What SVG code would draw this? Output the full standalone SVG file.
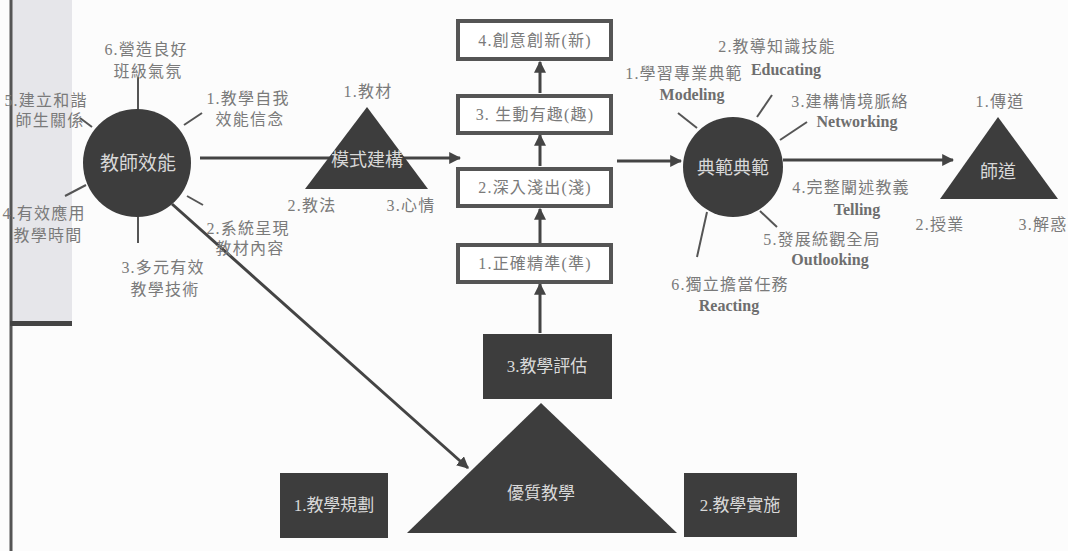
<svg xmlns="http://www.w3.org/2000/svg" width="1068" height="551" viewBox="0 0 1068 551">
<defs>
<style>
.lbl{font-family:"Liberation Serif","Noto Sans CJK TC",serif;font-size:16px;letter-spacing:1.2px;fill:#7a7a7a;text-anchor:middle}
.en{font-family:"Liberation Serif","Noto Sans CJK TC",serif;font-size:16px;fill:#6e6e6e;font-weight:bold;text-anchor:middle}
.wt{font-family:"Liberation Serif","Noto Sans CJK TC",serif;fill:#d8d8d8;text-anchor:middle}
.bx{font-family:"Liberation Serif","Noto Sans CJK TC",serif;font-size:16px;letter-spacing:1.2px;fill:#7a7a7a;text-anchor:middle}
.dark{fill:#3d3d3d}
.box{fill:#fff;stroke:#555;stroke-width:4}
.ln{stroke:#444;stroke-width:3;fill:none}
.sp{stroke:#555;stroke-width:2;fill:none}
</style>
<marker id="ah" viewBox="0 0 10 10" refX="9" refY="5" markerWidth="4" markerHeight="4" orient="auto" markerUnits="strokeWidth">
<path d="M0,0 L10,5 L0,10 z" fill="#444"/>
</marker>
</defs>
<rect width="1068" height="551" fill="#fcfcfc"/>
<g id="side-panel">
<rect x="11" y="0" width="61" height="323" fill="#e6e6ea"/>
<line x1="11" y1="0" x2="11" y2="551" stroke="#555" stroke-width="3"/>
<rect x="10" y="321" width="62" height="5" fill="#444"/>
</g>
<g id="connectors">
<line class="ln" x1="200" y1="158" x2="460" y2="158" marker-end="url(#ah)"/>
<line class="ln" x1="172" y1="204" x2="468" y2="468" marker-end="url(#ah)"/>
<line class="ln" x1="617" y1="161" x2="681" y2="161" marker-end="url(#ah)"/>
<line class="ln" x1="783" y1="160" x2="953" y2="160" marker-end="url(#ah)"/>
<line class="ln" x1="540" y1="333" x2="540" y2="284" marker-end="url(#ah)"/>
<line class="ln" x1="540" y1="243" x2="540" y2="209" marker-end="url(#ah)"/>
<line class="ln" x1="540" y1="166" x2="540" y2="135" marker-end="url(#ah)"/>
<line class="ln" x1="540" y1="93" x2="540" y2="62" marker-end="url(#ah)"/>
</g>
<g id="teacher-efficacy">
<line class="sp" x1="138" y1="77" x2="138" y2="110"/>
<line class="sp" x1="184" y1="125" x2="202" y2="113"/>
<line class="sp" x1="80" y1="118" x2="92" y2="127"/>
<line class="sp" x1="65" y1="196" x2="86" y2="185"/>
<line class="sp" x1="187" y1="196" x2="203" y2="205"/>
<line class="sp" x1="138" y1="216" x2="138" y2="243"/>
<circle class="dark" cx="137" cy="163" r="54"/>
<text class="wt" x="138" y="170" font-size="19">教師效能</text>
<text class="lbl" x="146" y="55">6.營造良好</text>
<text class="lbl" x="148" y="77">班級氣氛</text>
<text class="lbl" x="248" y="104">1.教學自我</text>
<text class="lbl" x="250" y="125">效能信念</text>
<text class="lbl" x="46" y="106">5.建立和諧</text>
<text class="lbl" x="50" y="126">師生關係</text>
<text class="lbl" x="44" y="219">4.有效應用</text>
<text class="lbl" x="48" y="241">教學時間</text>
<text class="lbl" x="248" y="234">2.系統呈現</text>
<text class="lbl" x="250" y="254">教材內容</text>
<text class="lbl" x="163" y="273">3.多元有效</text>
<text class="lbl" x="165" y="295">教學技術</text>
</g>
<g id="model-building">
<polygon class="dark" points="367,107 305,189 428,189"/>
<text class="wt" x="367" y="166" font-size="18">模式建構</text>
<text class="lbl" x="368" y="97">1.教材</text>
<text class="lbl" x="312" y="211">2.教法</text>
<text class="lbl" x="411" y="211">3.心情</text>
</g>
<g id="box4"><rect class="box" x="458" y="21" width="153" height="38"/><text class="bx" x="535" y="46">4.創意創新(新)</text></g>
<g id="box3"><rect class="box" x="458" y="96" width="153" height="37"/><text class="bx" x="535" y="120">3. 生動有趣(趣)</text></g>
<g id="box2"><rect class="box" x="458" y="169" width="153" height="37"/><text class="bx" x="535" y="193">2.深入淺出(淺)</text></g>
<g id="box1"><rect class="box" x="458" y="245" width="153" height="37"/><text class="bx" x="535" y="269">1.正確精準(準)</text></g>
<g id="model-teacher">
<line class="sp" x1="678" y1="113" x2="697" y2="128"/>
<line class="sp" x1="757" y1="117" x2="772" y2="95"/>
<line class="sp" x1="780" y1="140" x2="807" y2="122"/>
<line class="sp" x1="760" y1="211" x2="777" y2="227"/>
<line class="sp" x1="707" y1="212" x2="697" y2="257"/>
<circle class="dark" cx="733" cy="167" r="50"/>
<text class="wt" x="733" y="174" font-size="18">典範典範</text>
<text class="lbl" x="684" y="79">1.學習專業典範</text>
<text class="en" x="692" y="100">Modeling</text>
<text class="lbl" x="777" y="52">2.教導知識技能</text>
<text class="en" x="786" y="75">Educating</text>
<text class="lbl" x="850" y="107">3.建構情境脈絡</text>
<text class="en" x="857" y="127">Networking</text>
<text class="lbl" x="851" y="193">4.完整闡述教義</text>
<text class="en" x="857" y="215">Telling</text>
<text class="lbl" x="822" y="245">5.發展統觀全局</text>
<text class="en" x="830" y="265">Outlooking</text>
<text class="lbl" x="730" y="290">6.獨立擔當任務</text>
<text class="en" x="729" y="311">Reacting</text>
</g>
<g id="teacher-way">
<polygon class="dark" points="998,117 940,199 1058,199"/>
<text class="wt" x="998" y="178" font-size="18">師道</text>
<text class="lbl" x="1000" y="107">1.傳道</text>
<text class="lbl" x="940" y="230">2.授業</text>
<text class="lbl" x="1043" y="230">3.解惑</text>
</g>
<g id="evaluation"><rect class="dark" x="483" y="334" width="129" height="65"/><text class="wt" x="547" y="372" font-size="17">3.教學評估</text></g>
<g id="quality-teaching"><polygon class="dark" points="541,403 407,533 677,533"/><text class="wt" x="541" y="499" font-size="17">優質教學</text></g>
<g id="planning"><rect class="dark" x="280" y="473" width="108" height="65"/><text class="wt" x="334" y="511" font-size="17">1.教學規劃</text></g>
<g id="implementation"><rect class="dark" x="684" y="473" width="113" height="64"/><text class="wt" x="740" y="511" font-size="17">2.教學實施</text></g>
</svg>
